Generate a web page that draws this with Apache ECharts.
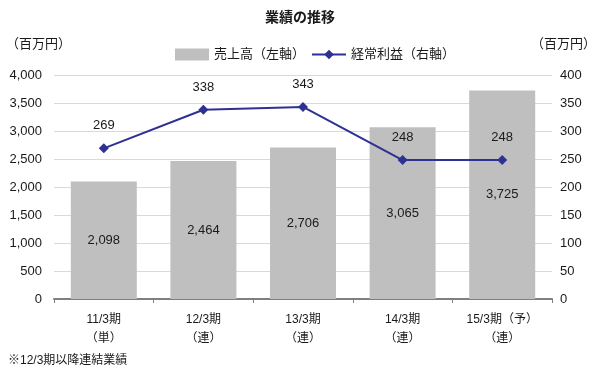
<!DOCTYPE html>
<html>
<head>
<meta charset="utf-8">
<script src="https://cdn.jsdelivr.net/npm/echarts@6/dist/echarts.min.js"></script>
<style>
  html, body { margin: 0; padding: 0; background: #fff; }
  #chart { width: 600px; height: 378px; }
</style>
</head>
<body>
<div id="chart"></div>
<script>
var categories = ['11/3期\n（単）', '12/3期\n（連）', '13/3期\n（連）', '14/3期\n（連）', '15/3期（予）\n（連）'];
var sales = [2098, 2464, 2706, 3065, 3725];      // 売上高（左軸）
var ordinaryProfit = [269, 338, 343, 248, 248];  // 経常利益（右軸）

var FONT = '"Liberation Sans", "Noto Sans CJK JP", sans-serif';

var chart = echarts.init(document.getElementById('chart'));

var option = {
    backgroundColor: '#fff',
    textStyle: { fontFamily: FONT, color: '#1a1a1a' },
    title: {
        text: '業績の推移',
        left: 'center',
        top: 6,
        textStyle: { fontFamily: FONT, fontSize: 14, fontWeight: 'bold', color: '#1a1a1a' }
    },
    legend: {
        top: 43,
        left: 170,
        itemGap: 6,
        itemWidth: 34,
        itemHeight: 12,
        textStyle: { fontFamily: FONT, fontSize: 13, color: '#1a1a1a' },
        data: [
            { name: '売上高（左軸）', icon: 'rect' },
            { name: '経常利益（右軸）' }
        ]
    },
    graphic: [
        {
            type: 'text', left: 6, top: 38,
            style: { text: '（百万円）', font: '13px ' + FONT, fill: '#1a1a1a' }
        },
        {
            type: 'text', right: 4, top: 38,
            style: { text: '（百万円）', font: '13px ' + FONT, fill: '#1a1a1a' }
        },
        {
            type: 'text', left: 8, top: 355,
            style: { text: '※12/3期以降連結業績', font: '12px ' + FONT, fill: '#1a1a1a' }
        }
    ],
    grid: { left: 54, right: 48, top: 75, bottom: 79 },
    xAxis: {
        type: 'category',
        data: categories,
        axisLine: { lineStyle: { color: '#7f7f7f', width: 2 } },
        axisTick: { show: true, length: 4, lineStyle: { color: '#7f7f7f' } },
        axisLabel: { fontSize: 12, color: '#1a1a1a', lineHeight: 19, margin: 11, interval: 0 }
    },
    yAxis: [
        {
            type: 'value', min: 0, max: 4000, interval: 500,
            axisLine: { show: false }, axisTick: { show: false },
            splitLine: { lineStyle: { color: '#d9d9d9' } },
            axisLabel: {
                fontSize: 13, color: '#1a1a1a', margin: 12,
                formatter: function (v) { return v.toLocaleString('en-US'); }
            }
        },
        {
            type: 'value', min: 0, max: 400, interval: 50,
            axisLine: { show: false }, axisTick: { show: false },
            splitLine: { show: false },
            axisLabel: { fontSize: 13, color: '#1a1a1a', margin: 8 }
        }
    ],
    series: [
        {
            name: '売上高（左軸）',
            type: 'bar',
            yAxisIndex: 0,
            data: sales,
            barWidth: 66,
            itemStyle: { color: '#bfbfbf' },
            label: {
                show: true, position: 'inside', fontSize: 13, color: '#1a1a1a',
                formatter: function (p) { return p.value.toLocaleString('en-US'); }
            },
            z: 1
        },
        {
            name: '経常利益（右軸）',
            type: 'line',
            yAxisIndex: 1,
            data: ordinaryProfit,
            symbol: 'diamond',
            symbolSize: 10,
            lineStyle: { color: '#2e3192', width: 2 },
            itemStyle: { color: '#2e3192' },
            label: { show: true, position: 'top', distance: 11, fontSize: 13, color: '#1a1a1a' },
            z: 3
        }
    ]
};

chart.setOption(option);
</script>
</body>
</html>
